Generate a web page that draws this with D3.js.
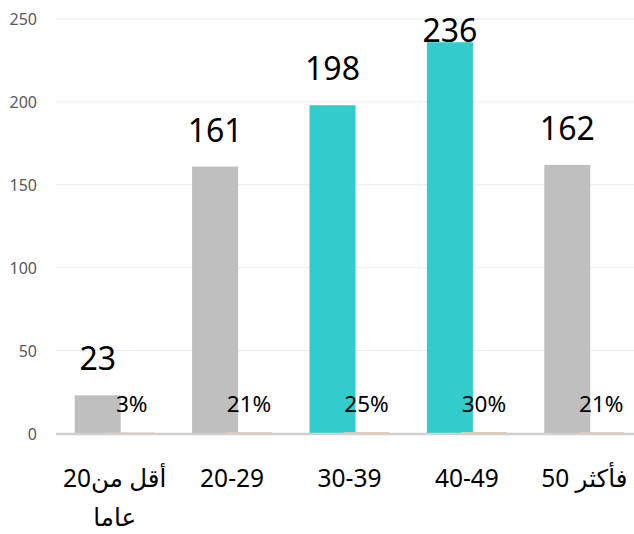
<!DOCTYPE html>
<html dir="ltr">
<head>
<meta charset="utf-8">
<script src="https://cdn.jsdelivr.net/npm/d3@7"></script>
<style>
html,body{margin:0;padding:0;background:#fff;}
#wrap{position:relative;width:634px;height:534px;overflow:hidden;}
svg{display:block;position:absolute;left:0;top:0;}
text{font-family:"Noto Sans","DejaVu Sans",sans-serif;}
.xl{position:absolute;text-align:center;font-family:"Noto Sans","DejaVu Sans",sans-serif;
    font-size:24.5px;line-height:39px;color:#000;white-space:nowrap;direction:ltr;}
.xl span{unicode-bidi:isolate;}
</style>
</head>
<body>
<div id="wrap"><svg id="chart" width="634" height="534"></svg></div>
<script>
const categories = ["أقل من20 عاما", "20-29", "30-39", "40-49", "50 \u0641\u0623\u0643\u062B\u0631"];
const counts = [23, 161, 198, 236, 162];
const shares = [0.03, 0.21, 0.25, 0.30, 0.21];
const shareLabels = ["3%", "21%", "25%", "30%", "21%"];
const highlighted = ["30-39", "40-49"];
const yTicks = [0, 50, 100, 150, 200, 250];

const svg = d3.select("#chart");
const W = 634;

const x = d3.scaleBand().domain(categories).range([56, 643]).padding(0);
const y = d3.scaleLinear().domain([0, 250]).range([433.5, 19]);

const barW = 46, groupW = 80;

// gridlines
svg.append("g").selectAll("line").data(yTicks.filter(d => d > 0)).join("line")
  .attr("x1", 56).attr("x2", W)
  .attr("y1", d => y(d)).attr("y2", d => y(d))
  .attr("stroke", "#ececec").attr("stroke-width", 1);

// y tick labels
svg.append("g").selectAll("text").data(yTicks).join("text")
  .attr("x", 37).attr("y", d => y(d))
  .attr("text-anchor", "end").attr("dominant-baseline", "central")
  .attr("font-size", 16).attr("fill", "#595959")
  .text(d => d);

const cx = c => x(c) + x.bandwidth() / 2;

// count bars
svg.append("g").selectAll("rect").data(categories).join("rect")
  .attr("x", c => cx(c) - groupW / 2)
  .attr("width", barW)
  .attr("y", (c, i) => y(counts[i]))
  .attr("height", (c, i) => y(0) - y(counts[i]))
  .attr("fill", c => highlighted.includes(c) ? "#33cccc" : "#bfbfbf");

// share bars (tiny, on same axis)
svg.append("g").selectAll("rect").data(categories).join("rect")
  .attr("x", c => cx(c) + groupW / 2 - barW)
  .attr("width", barW)
  .attr("y", (c, i) => y(shares[i]) - 1)
  .attr("height", (c, i) => y(0) - y(shares[i]) + 1)
  .attr("fill", "#efc7a8");

// baseline
svg.append("line")
  .attr("x1", 56).attr("x2", W)
  .attr("y1", y(0) + 0.5).attr("y2", y(0) + 0.5)
  .attr("stroke", "#d0d0d0").attr("stroke-width", 2.6);

// count labels
svg.append("g").selectAll("text").data(categories).join("text")
  .attr("x", c => cx(c) - groupW / 2 + barW / 2)
  .attr("y", (c, i) => Math.max(y(counts[i]) - 25, y(250) + 23))
  .attr("text-anchor", "middle")
  .attr("font-size", 32).attr("fill", "#000")
  .text((c, i) => counts[i]);

// share labels
svg.append("g").selectAll("text").data(categories).join("text")
  .attr("x", c => cx(c) + groupW / 2 - barW / 2)
  .attr("y", y(0) - 22)
  .attr("text-anchor", "middle")
  .attr("font-size", 22.5).attr("fill", "#000")
  .text((c, i) => shareLabels[i]);

// x labels as HTML text (LTR line, as in the original)
const wrap = d3.select("#wrap");
wrap.selectAll("div.xl").data(categories).join("div")
  .attr("class", "xl")
  .style("left", c => (cx(c) - 80) + "px")
  .style("width", "160px")
  .style("top", "458px")
  .each(function(c, i) {
    const el = d3.select(this);
    if (i === 0) {
      ["أقل من20", "عاما"].forEach(p => el.append("div").text(p));
    } else {
      const line = el.append("div");
      c.split(" ").forEach((tok, k) => {
        if (k > 0) line.append("span").text(" ");
        line.append("span").text(tok);
      });
    }
  });
</script>
</body>
</html>
